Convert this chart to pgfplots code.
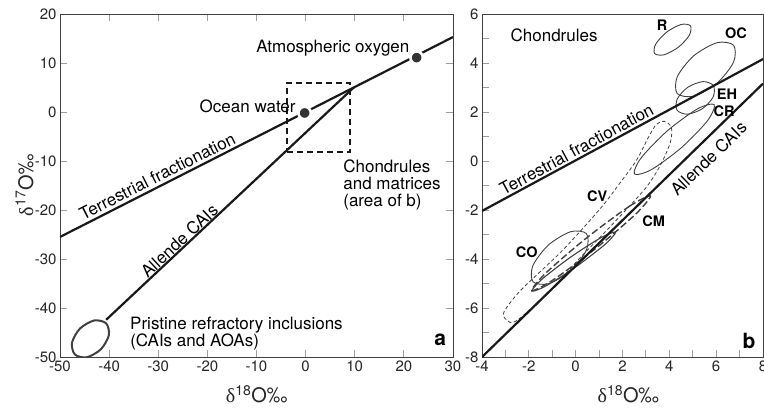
\documentclass[border=0pt]{standalone}
\usepackage{pgfplots}
\pgfplotsset{compat=1.18}
\usepackage{fontspec}
\setmainfont{TeX Gyre Heros}
\newfontfamily\symf{Liberation Serif}
\definecolor{axgray}{gray}{0.25}
\definecolor{tickgray}{gray}{0.62}
\definecolor{elgray}{gray}{0.25}
\newcommand{\lab}{\fontsize{17}{17}\selectfont}
\newcommand{\blab}{\fontsize{14.5}{15}\selectfont\bfseries}
\newcommand{\dO}[1]{{\symf δ}\textsuperscript{#1}O‰}
\begin{document}
\begin{tikzpicture}[x=1pt,y=1pt]
\useasboundingbox (0,0) rectangle (764,408);
\pgfplotsset{
 common/.style={
  scale only axis,
  anchor=south west,
  height=343pt,
  axis line style={draw=axgray, line width=0.9pt},
  tick align=inside,
  major tick length=7pt,
  minor tick length=7pt,
  tick style={draw=tickgray, line width=0.9pt},
  /pgf/number format/assume math mode=true,
  tick label style={font=\fontsize{15}{18}\selectfont, text=black!85},
  label style={font=\fontsize{20}{24}\selectfont, text=black!85},
 }
}
% ---------------- panel a ----------------
\begin{axis}[common, at={(60pt,51pt)}, width=393pt,
 xmin=-50,xmax=30,ymin=-50,ymax=20,
 xtick={-50,-40,...,30}, ytick={-50,-40,...,20},
 xlabel={\dO{18}}, ylabel={\dO{17}},
 xlabel style={at={(axis description cs:0.5,-0.134)}, anchor=base},
 ylabel style={at={(axis description cs:-0.0687,0.5)}, anchor=base},
]
\addplot[black!90, line width=2.2pt] coordinates {(-50,-25.5) (30,15.3)};
\addplot[black!90, line width=2.2pt] coordinates {(-40.6,-42.4) (9.8,5.0)};
\addplot[black!90, line width=1.4pt, dash pattern=on 6pt off 4pt] coordinates {(-3.8,-8.2) (9,-8.2) (9,5.9) (-3.8,5.9) (-3.8,-8.2)};
\addplot[elgray, line width=2pt, smooth cycle] coordinates {
 (-40.62,-43.12) (-43.05,-42.55) (-45.92,-44.18) (-47.55,-47.05)
 (-46.98,-49.48) (-44.55,-50.05) (-41.68,-48.42) (-40.05,-45.55)};
\addplot[only marks, mark=*, mark size=6.2pt, mark options={fill=black!80, draw=white, line width=2.6pt}] coordinates {(-0.2,-0.2) (22.6,11.1)};
\node[font=\lab] at (axis cs:5.54,13.0) {Atmospheric oxygen};
\node[font=\lab] at (axis cs:-11.8,1.08) {Ocean water};
\node[font=\lab, anchor=north west, align=left, inner sep=0pt] at (axis cs:7.64,-9.8) {Chondrules\\and matrices\\(area of b)};
\node[font=\lab, anchor=north west, align=left, inner sep=0pt] at (axis cs:-35.74,-41.8) {Pristine refractory inclusions\\(CAIs and AOAs)};
\node[font=\lab, rotate=26.8] at (axis cs:-30.2,-13.1) {Terrestrial fractionation};
\node[font=\lab, rotate=43] at (axis cs:-25.7,-26.3) {Allende CAIs};
\node[font=\fontsize{21}{21}\selectfont\bfseries] at (axis cs:27.4,-46.5) {a};
\end{axis}
% ---------------- panel b ----------------
\begin{axis}[common, at={(482pt,51pt)}, width=281pt,
 xmin=-4,xmax=8,ymin=-8,ymax=6,
 xtick={-4,-2,...,8}, ytick={-8,-6,...,6},
 minor xtick={-3,-1,...,7}, minor ytick={-7,-5,...,5},
 xtick pos=bottom, ytick pos=left,
 xlabel={\dO{18}},
 xlabel style={at={(axis description cs:0.52,-0.134)}, anchor=base},
]
% R
\addplot[elgray, line width=0.9pt, smooth cycle] coordinates {
 (4.902,5.518) (4.501,5.571) (3.887,5.263) (3.419,4.773)
 (3.370,4.388) (3.771,4.335) (4.385,4.643) (4.853,5.133)};
% OC
\addplot[elgray, line width=0.9pt, smooth cycle] coordinates {
 (6.745,4.723) (6.040,4.829) (5.044,4.296) (4.338,3.437)
 (4.337,2.753) (5.042,2.647) (6.038,3.180) (6.744,4.039)};
% EH
\addplot[elgray, line width=0.9pt, smooth cycle] coordinates {
 (5.882,3.077) (5.436,3.241) (4.797,3.015) (4.338,2.533)
 (4.330,2.075) (4.776,1.911) (5.415,2.137) (5.874,2.619)};
% CR
\addplot[elgray, line width=0.9pt, smooth cycle] coordinates {
 (5.915,2.303) (5.199,2.127) (3.906,1.224) (2.793,0.123)
 (2.511,-0.531) (3.227,-0.355) (4.520,0.548) (5.633,1.649)};
% CO
\addplot[elgray, line width=0.9pt, smooth cycle] coordinates {
 (0.458,-2.963) (-0.218,-2.887) (-1.166,-3.431) (-1.830,-4.277)
 (-1.820,-4.929) (-1.144,-5.005) (-0.196,-4.461) (0.468,-3.615)};
% CV
\addplot[elgray, line width=0.8pt, dash pattern=on 3.5pt off 2.5pt, smooth cycle] coordinates {
 (-3.064,-6.168) (-2.340,-5.271) (-0.553,-3.640) (1.064,-1.928)
 (1.915,-0.868) (2.596,0.029) (3.106,0.966) (3.447,1.496)
 (3.787,1.618) (4.085,1.374) (4.043,0.762) (3.617,-0.175)
 (2.979,-1.113) (1.574,-2.581) (0.213,-3.926) (-1.277,-5.475)
 (-2.553,-6.535) (-2.936,-6.494)};
% CM
\addplot[elgray, line width=1.4pt, dash pattern=on 7pt off 3pt, smooth cycle] coordinates {
 (3.191,-1.426) (2.319,-1.833) (0.475,-3.132) (-1.261,-4.561)
 (-1.871,-5.284) (-0.999,-4.877) (0.845,-3.578) (2.581,-2.149)};
% small solid field
\addplot[elgray, line width=1.1pt, smooth cycle] coordinates {
 (1.701,-2.906) (1.083,-3.128) (-0.219,-3.926) (-1.443,-4.830)
 (-1.871,-5.312) (-1.253,-5.090) (0.049,-4.292) (1.273,-3.388)};
% lines
\addplot[black!90, line width=2.2pt] coordinates {(-4,-2.04) (8,4.16)};
\addplot[black!90, line width=2.2pt] coordinates {(-4,-8) (8,3.16)};
% labels
\node[font=\lab] at (axis cs:-0.92,5.12) {Chondrules};
\node[font=\blab] at (axis cs:3.69,5.56) {R};
\node[font=\blab] at (axis cs:6.85,5.23) {OC};
\node[font=\blab] at (axis cs:6.46,2.71) {EH};
\node[font=\blab] at (axis cs:6.34,2.03) {CR};
\node[font=\blab] at (axis cs:0.92,-1.43) {CV};
\node[font=\blab] at (axis cs:3.33,-2.45) {CM};
\node[font=\blab] at (axis cs:-2.09,-3.74) {CO};
\node[font=\lab, rotate=28.5] at (axis cs:0.04,0.47) {Terrestrial fractionation};
\node[font=\lab, rotate=44] at (axis cs:5.67,0.10) {Allende CAIs};
\node[font=\fontsize{21}{21}\selectfont\bfseries] at (axis cs:7.40,-7.33) {b};
\end{axis}
\end{tikzpicture}
\end{document}
